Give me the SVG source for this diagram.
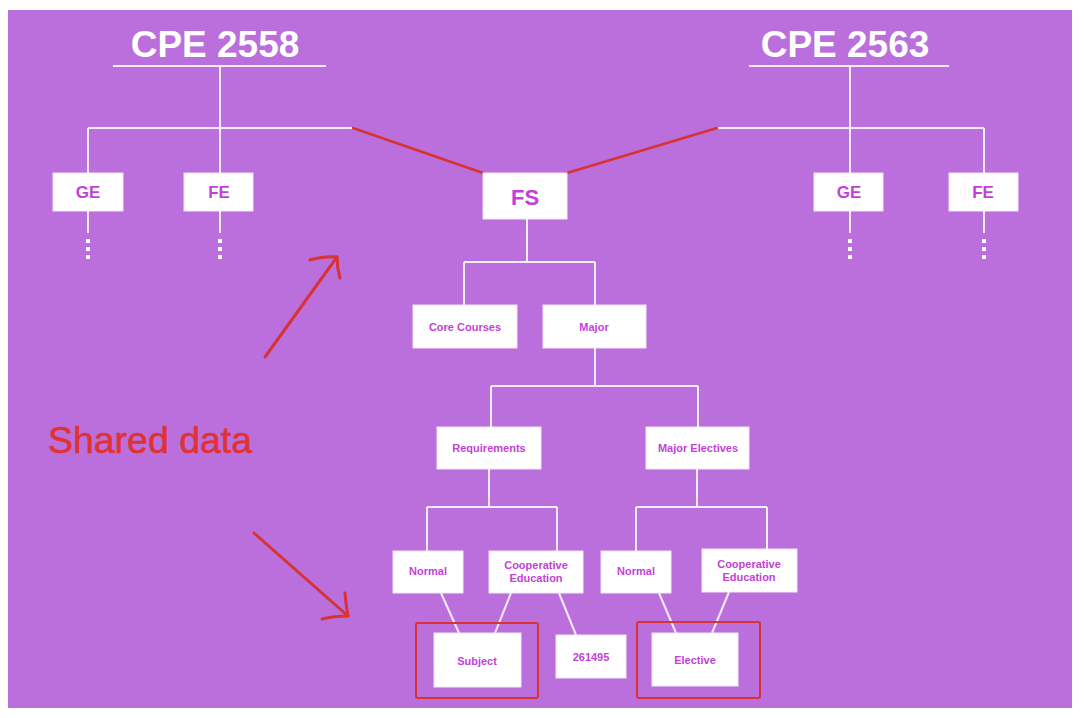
<svg xmlns="http://www.w3.org/2000/svg" width="1084" height="718" viewBox="0 0 1084 718">
<style>
.box{fill:#ffffff;stroke:#f3e6f8;stroke-width:1}
.lbl{font-family:"Liberation Sans",Arial,sans-serif;font-weight:bold;fill:#c43fd8;text-anchor:middle}
.s{font-size:11px}
.m{font-size:17px}
.title{font-family:"Liberation Sans",Arial,sans-serif;font-weight:bold;font-size:37px;fill:#ffffff;text-anchor:middle}
.w{stroke:#f6ecfa;stroke-width:2;fill:none}
.r{stroke:#d83232;stroke-width:3;fill:none;stroke-linecap:round;stroke-linejoin:round}
.rl{stroke:#d83232;stroke-width:2.5;fill:none;stroke-linecap:round}
.rb{stroke:#d83232;stroke-width:2;fill:none}
.dot{fill:#ffffff}
</style>
<rect x="0" y="0" width="1084" height="718" fill="#ffffff"/>
<rect x="8" y="10" width="1064" height="697" fill="#bb6fdc"/>
<line x1="8" y1="707.5" x2="1072" y2="707.5" stroke="#a08aa8" stroke-width="1"/>

<g id="connectors">
  <line class="w" x1="113" y1="66" x2="326" y2="66"/>
  <line class="w" x1="220" y1="66" x2="220" y2="173"/>
  <line class="w" x1="88" y1="128" x2="353" y2="128"/>
  <line class="w" x1="88" y1="128" x2="88" y2="173"/>
  <line class="w" x1="88" y1="211" x2="88" y2="233"/>
  <line class="w" x1="220" y1="211" x2="220" y2="233"/>
  <rect class="dot" x="86" y="239" width="4" height="4"/>
  <rect class="dot" x="86" y="247" width="4" height="4"/>
  <rect class="dot" x="86" y="255" width="4" height="4"/>
  <rect class="dot" x="218" y="239" width="4" height="4"/>
  <rect class="dot" x="218" y="247" width="4" height="4"/>
  <rect class="dot" x="218" y="255" width="4" height="4"/>

  <line class="w" x1="749" y1="66" x2="949" y2="66"/>
  <line class="w" x1="850" y1="66" x2="850" y2="173"/>
  <line class="w" x1="717" y1="128" x2="984" y2="128"/>
  <line class="w" x1="984" y1="128" x2="984" y2="173"/>
  <line class="w" x1="850" y1="211" x2="850" y2="233"/>
  <line class="w" x1="984" y1="211" x2="984" y2="233"/>
  <rect class="dot" x="848" y="239" width="4" height="4"/>
  <rect class="dot" x="848" y="247" width="4" height="4"/>
  <rect class="dot" x="848" y="255" width="4" height="4"/>
  <rect class="dot" x="982" y="239" width="4" height="4"/>
  <rect class="dot" x="982" y="247" width="4" height="4"/>
  <rect class="dot" x="982" y="255" width="4" height="4"/>

  <line class="rl" x1="353" y1="128" x2="483" y2="173"/>
  <line class="rl" x1="717" y1="128" x2="567" y2="173"/>

  <line class="w" x1="527" y1="219" x2="527" y2="262"/>
  <line class="w" x1="464" y1="262" x2="595" y2="262"/>
  <line class="w" x1="464" y1="262" x2="464" y2="305"/>
  <line class="w" x1="595" y1="262" x2="595" y2="305"/>

  <line class="w" x1="595" y1="348" x2="595" y2="386"/>
  <line class="w" x1="491" y1="386" x2="698" y2="386"/>
  <line class="w" x1="491" y1="386" x2="491" y2="427"/>
  <line class="w" x1="698" y1="386" x2="698" y2="427"/>

  <line class="w" x1="489" y1="469" x2="489" y2="507"/>
  <line class="w" x1="427" y1="507" x2="557" y2="507"/>
  <line class="w" x1="427" y1="507" x2="427" y2="551"/>
  <line class="w" x1="557" y1="507" x2="557" y2="551"/>

  <line class="w" x1="697" y1="469" x2="697" y2="507"/>
  <line class="w" x1="636" y1="507" x2="767" y2="507"/>
  <line class="w" x1="636" y1="507" x2="636" y2="551"/>
  <line class="w" x1="767" y1="507" x2="767" y2="549"/>

  <line class="w" x1="441" y1="593" x2="459" y2="633"/>
  <line class="w" x1="511" y1="593" x2="495" y2="633"/>
  <line class="w" x1="559" y1="593" x2="576" y2="635"/>
  <line class="w" x1="659" y1="593" x2="676" y2="633"/>
  <line class="w" x1="729" y1="592" x2="712" y2="633"/>
</g>

<g id="title-2558"><text class="title" x="215" y="57">CPE 2558</text></g>
<g id="title-2563"><text class="title" x="845" y="57">CPE 2563</text></g>

<g id="ge1"><rect class="box" x="53" y="173" width="70" height="38"/><text class="lbl m" x="88" y="198">GE</text></g>
<g id="fe1"><rect class="box" x="184" y="173" width="69" height="38"/><text class="lbl m" x="219" y="198">FE</text></g>
<g id="ge2"><rect class="box" x="814" y="173" width="69" height="38"/><text class="lbl m" x="849" y="198">GE</text></g>
<g id="fe2"><rect class="box" x="949" y="173" width="69" height="38"/><text class="lbl m" x="983" y="198">FE</text></g>

<g id="fs"><rect class="box" x="483" y="173" width="84" height="46"/><text class="lbl" style="font-size:22px" x="525" y="205">FS</text></g>

<g id="core"><rect class="box" x="413" y="305" width="104" height="43"/><text class="lbl s" x="465" y="331">Core Courses</text></g>
<g id="major"><rect class="box" x="543" y="305" width="103" height="43"/><text class="lbl s" x="594" y="331">Major</text></g>

<g id="requirements"><rect class="box" x="437" y="427" width="104" height="42"/><text class="lbl s" x="489" y="452">Requirements</text></g>
<g id="major-electives"><rect class="box" x="646" y="427" width="103" height="42"/><text class="lbl s" x="698" y="452">Major Electives</text></g>

<g id="normal1"><rect class="box" x="393" y="551" width="70" height="42"/><text class="lbl s" x="428" y="575">Normal</text></g>
<g id="coop1"><rect class="box" x="489" y="551" width="94" height="42"/><text class="lbl s" x="536" y="569">Cooperative</text><text class="lbl s" x="536" y="582">Education</text></g>
<g id="normal2"><rect class="box" x="601" y="551" width="70" height="42"/><text class="lbl s" x="636" y="575">Normal</text></g>
<g id="coop2"><rect class="box" x="702" y="549" width="95" height="43"/><text class="lbl s" x="749" y="568">Cooperative</text><text class="lbl s" x="749" y="581">Education</text></g>

<g id="subject"><rect class="box" x="434" y="633" width="87" height="54"/><text class="lbl s" x="477" y="665">Subject</text></g>
<g id="code-261495"><rect class="box" x="556" y="635" width="70" height="43"/><text class="lbl s" x="591" y="661">261495</text></g>
<g id="elective"><rect class="box" x="652" y="633" width="86" height="53"/><text class="lbl s" x="695" y="664">Elective</text></g>

<g id="highlights">
  <rect class="rb" x="416" y="623" width="122" height="75" rx="2"/>
  <rect class="rb" x="637" y="622" width="123" height="76" rx="2"/>
</g>

<g id="shared-data">
  <text x="48" y="453" font-family="'Liberation Sans',Arial,sans-serif" font-size="36" fill="#e03232" stroke="#e03232" stroke-width="0.6" textLength="204" lengthAdjust="spacingAndGlyphs">Shared data</text>
  <path class="r" d="M265,357 L337,257"/>
  <path class="r" d="M310,260 Q325,256 337,257 Q337,268 340,278"/>
  <path class="r" d="M254,533 L348,616"/>
  <path class="r" d="M345,593 Q346,606 348,616 Q334,616 322,619"/>
</g>
</svg>
